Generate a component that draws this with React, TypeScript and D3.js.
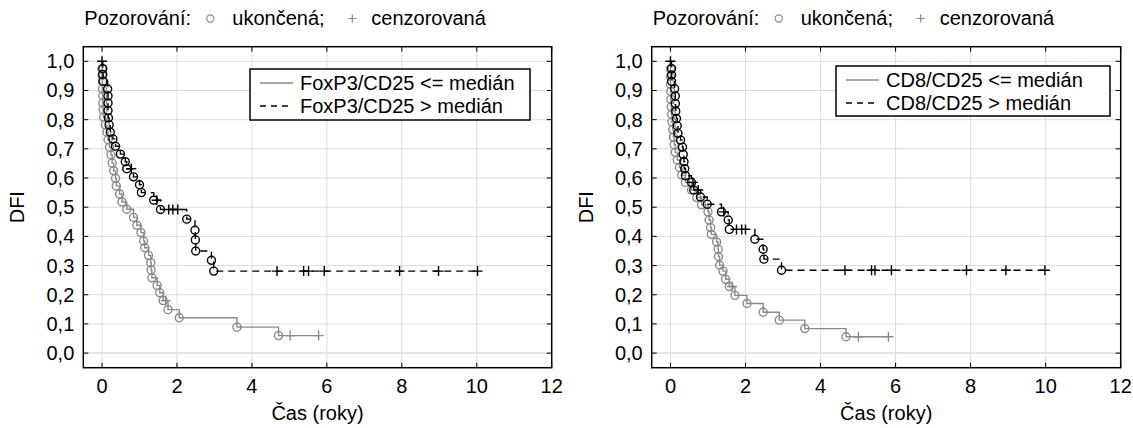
import React from 'react';
import * as d3 from 'd3';

// ---------- data ----------
const xTicks = [0, 2, 4, 6, 8, 10, 12];
const yTicks = [0, 0.1, 0.2, 0.3, 0.4, 0.5, 0.6, 0.7, 0.8, 0.9, 1.0];
const xLabel = 'Čas (roky)';
const yLabel = 'DFI';
const headerTitle = 'Pozorování:';
const headerEvent = 'ukončená;';
const headerCensor = 'cenzorovaná';

// [time, survival, status] status 1 = event (ukončená), 0 = censored (cenzorovaná)
type Obs = [number, number, number];

const foxLow: Obs[] = [
  [0.0, 0.974, 1], [0.0, 0.952, 1], [0.01, 0.93, 1], [0.01, 0.905, 1], [0.02, 0.882, 1],
  [0.02, 0.857, 1], [0.03, 0.834, 1], [0.04, 0.808, 1], [0.09, 0.782, 1], [0.13, 0.757, 1],
  [0.16, 0.731, 1], [0.2, 0.705, 1], [0.24, 0.679, 1], [0.27, 0.651, 1], [0.31, 0.625, 1],
  [0.36, 0.599, 1], [0.38, 0.573, 1], [0.47, 0.545, 1], [0.53, 0.518, 1], [0.66, 0.493, 1],
  [0.84, 0.465, 1], [0.93, 0.438, 1], [1.04, 0.413, 1], [1.11, 0.384, 1], [1.14, 0.361, 1],
  [1.24, 0.335, 1], [1.3, 0.31, 1], [1.31, 0.285, 1], [1.33, 0.258, 1], [1.47, 0.232, 1],
  [1.54, 0.207, 1], [1.63, 0.18, 1], [1.7, 0.18, 0], [1.76, 0.149, 1], [2.06, 0.121, 1],
  [3.6, 0.089, 1], [4.71, 0.06, 1], [5.02, 0.06, 0], [5.78, 0.06, 0],
];

const foxHigh: Obs[] = [
  [0.0, 1.0, 0], [0.02, 0.975, 1], [0.02, 0.955, 1], [0.03, 0.932, 1], [0.15, 0.905, 1],
  [0.16, 0.881, 1], [0.16, 0.857, 1], [0.16, 0.831, 1], [0.17, 0.806, 1], [0.19, 0.782, 1],
  [0.22, 0.757, 1], [0.29, 0.734, 1], [0.36, 0.709, 1], [0.49, 0.682, 1], [0.62, 0.656, 1],
  [0.66, 0.632, 1], [0.78, 0.632, 0], [0.84, 0.604, 1], [1.0, 0.577, 1], [1.05, 0.55, 1],
  [1.38, 0.524, 1], [1.46, 0.524, 0], [1.56, 0.492, 1], [1.78, 0.492, 0], [1.89, 0.492, 0],
  [2.02, 0.492, 0], [2.26, 0.459, 1], [2.48, 0.421, 1], [2.49, 0.388, 1], [2.5, 0.35, 1],
  [2.92, 0.318, 1], [2.98, 0.281, 1], [4.67, 0.281, 0], [5.38, 0.281, 0], [5.51, 0.281, 0],
  [5.93, 0.281, 0], [7.94, 0.281, 0], [8.98, 0.281, 0], [10.02, 0.281, 0],
];

const cd8Low: Obs[] = [
  [0.0, 0.974, 1], [0.0, 0.948, 1], [0.0, 0.922, 1], [0.01, 0.896, 1], [0.01, 0.87, 1],
  [0.02, 0.844, 1], [0.03, 0.818, 1], [0.04, 0.792, 1], [0.06, 0.766, 1], [0.08, 0.74, 1],
  [0.1, 0.714, 1], [0.13, 0.688, 1], [0.18, 0.662, 1], [0.24, 0.636, 1], [0.3, 0.61, 1],
  [0.4, 0.585, 1], [0.56, 0.559, 1], [0.7, 0.533, 1], [0.83, 0.508, 1], [1.0, 0.484, 1],
  [1.03, 0.456, 1], [1.07, 0.43, 1], [1.09, 0.407, 1], [1.23, 0.381, 1], [1.27, 0.356, 1],
  [1.28, 0.331, 1], [1.31, 0.301, 1], [1.4, 0.281, 1], [1.47, 0.253, 1], [1.57, 0.228, 1],
  [1.64, 0.228, 0], [1.72, 0.198, 1], [2.04, 0.17, 1], [2.47, 0.14, 1], [2.9, 0.113, 1],
  [3.58, 0.084, 1], [4.68, 0.056, 1], [5.01, 0.056, 0], [5.81, 0.056, 0],
];

const cd8High: Obs[] = [
  [0.0, 1.0, 0], [0.03, 0.975, 1], [0.03, 0.953, 1], [0.03, 0.931, 1], [0.11, 0.906, 1],
  [0.13, 0.881, 1], [0.13, 0.855, 1], [0.14, 0.829, 1], [0.16, 0.804, 1], [0.18, 0.779, 1],
  [0.2, 0.753, 1], [0.27, 0.73, 1], [0.32, 0.706, 1], [0.34, 0.681, 1], [0.36, 0.656, 1],
  [0.38, 0.632, 1], [0.4, 0.608, 1], [0.56, 0.585, 1], [0.6, 0.585, 0], [0.62, 0.559, 1],
  [0.74, 0.559, 0], [0.8, 0.535, 1], [0.98, 0.51, 1], [1.36, 0.484, 1], [1.42, 0.484, 0],
  [1.54, 0.456, 1], [1.57, 0.424, 1], [1.76, 0.424, 0], [1.9, 0.424, 0], [2.0, 0.424, 0],
  [2.25, 0.39, 1], [2.47, 0.356, 1], [2.49, 0.322, 1], [2.96, 0.284, 1], [4.65, 0.284, 0],
  [5.36, 0.284, 0], [5.45, 0.284, 0], [5.89, 0.284, 0], [7.89, 0.284, 0], [8.94, 0.284, 0],
  [9.98, 0.284, 0],
];

const foxNames = ['FoxP3/CD25 <= medián', 'FoxP3/CD25 > medián'];
const cd8Names = ['CD8/CD25 <= medián', 'CD8/CD25 > medián'];

// ---------- layout ----------
const W = 1133;
const H = 428;
const FONT = '"Liberation Sans", Arial, sans-serif';
const FS = 20;
const GRAY = '#8a8a8a';
const BLACK = '#000';

const panels = [
  { fx0: 83.3, fx1: 551.7, low: foxLow, high: foxHigh, names: foxNames, lg: { x: 250, y: 69, w: 280, h: 51 } },
  { fx0: 651.7, fx1: 1120.7, low: cd8Low, high: cd8High, names: cd8Names, lg: { x: 836, y: 66, w: 274, h: 50 } },
];
const fy0 = 46.7;
const fy1 = 367.7;

function stepPoints(data: Obs[]): [number, number][] {
  const pts: [number, number][] = [[0, 1]];
  let s = 1;
  for (const [t, sv, st] of data) {
    pts.push([t, s]);
    if (st === 1) {
      pts.push([t, sv]);
      s = sv;
    }
  }
  return pts;
}

const fmt = (v: number) => v.toFixed(1).replace('.', ',');

function Panel({ p }: { p: (typeof panels)[number] }) {
  const x = d3.scaleLinear().domain([-0.5, 12]).range([p.fx0, p.fx1]);
  const y = d3.scaleLinear().domain([-0.05, 1.05]).range([fy1, fy0]);
  const line = d3.line<[number, number]>().x((d) => x(d[0])).y((d) => y(d[1]));
  const tk = 5;
  const series = [
    { data: p.low, color: GRAY, dash: undefined as string | undefined },
    { data: p.high, color: BLACK, dash: '7,5' },
  ];
  const cx = (p.fx0 + p.fx1) / 2;
  const cy = (fy0 + fy1) / 2;
  return (
    <g>
      {/* header legend */}
      <g fontFamily={FONT} fontSize={FS} fill="#000">
        <text x={p.fx0 + 1} y={25}>{headerTitle}</text>
        <circle cx={p.fx0 + 127} cy={18.5} r={3.6} fill="none" stroke={GRAY} strokeWidth={1.2} />
        <text x={p.fx0 + 149} y={25}>{headerEvent}</text>
        <path d={`M${p.fx0 + 265},18.5h8M${p.fx0 + 269},14.5v8`} stroke={GRAY} strokeWidth={1.2} />
        <text x={p.fx0 + 288} y={25}>{headerCensor}</text>
      </g>
      {/* grid */}
      <g stroke="#dcdcdc" strokeWidth={1}>
        {xTicks.map((t) => (
          <line key={'gx' + t} x1={x(t)} x2={x(t)} y1={fy0} y2={fy1} />
        ))}
        {yTicks.map((t) => (
          <line key={'gy' + t} x1={p.fx0} x2={p.fx1} y1={y(t)} y2={y(t)} strokeWidth={t === 0 ? 2 : 1} stroke={t === 0 ? '#e4e4e4' : '#dcdcdc'} />
        ))}
      </g>
      {/* curves */}
      {series.map((s, i) => (
        <g key={i}>
          <path d={line(stepPoints(s.data)) || ''} fill="none" stroke={s.color} strokeWidth={1.4} strokeDasharray={s.dash} />
          {s.data.filter((d) => d[2] === 1).map((d, j) => (
            <circle key={'e' + j} cx={x(d[0])} cy={y(d[1])} r={4} fill="none" stroke={s.color} strokeWidth={1.4} />
          ))}
          {s.data.filter((d) => d[2] === 0).map((d, j) => (
            <path key={'c' + j} d={`M${x(d[0]) - 5},${y(d[1])}h10M${x(d[0])},${y(d[1]) - 5}v10`} stroke={s.color} strokeWidth={1.4} />
          ))}
        </g>
      ))}
      {/* frame and inner ticks */}
      <rect x={p.fx0} y={fy0} width={p.fx1 - p.fx0} height={fy1 - fy0} fill="none" stroke="#000" strokeWidth={1.5} />
      <g stroke="#000" strokeWidth={1}>
        {xTicks.map((t) => (
          <g key={'tx' + t}>
            <line x1={x(t)} x2={x(t)} y1={fy1} y2={fy1 - tk} />
            <line x1={x(t)} x2={x(t)} y1={fy0} y2={fy0 + tk} />
          </g>
        ))}
        {yTicks.map((t) => (
          <g key={'ty' + t}>
            <line x1={p.fx0} x2={p.fx0 + tk} y1={y(t)} y2={y(t)} />
            <line x1={p.fx1} x2={p.fx1 - tk} y1={y(t)} y2={y(t)} />
          </g>
        ))}
      </g>
      {/* tick labels */}
      <g fontFamily={FONT} fontSize={FS} fill="#000">
        {xTicks.map((t) => (
          <text key={'lx' + t} x={x(t)} y={fy1 + 25} textAnchor="middle">{t}</text>
        ))}
        {yTicks.map((t) => (
          <text key={'ly' + t} x={p.fx0 - 9} y={y(t) + 7} textAnchor="end">{fmt(t)}</text>
        ))}
        <text x={cx} y={420} textAnchor="middle">{xLabel}</text>
        <text transform={`translate(${p.fx0 - 59},${cy}) rotate(-90)`} textAnchor="middle">{yLabel}</text>
      </g>
      {/* legend box */}
      <g>
        <rect x={p.lg.x} y={p.lg.y} width={p.lg.w} height={p.lg.h} fill="#fff" stroke="#000" strokeWidth={1.5} />
        <line x1={p.lg.x + 10} x2={p.lg.x + 43} y1={p.lg.y + 14} y2={p.lg.y + 14} stroke={GRAY} strokeWidth={1.4} />
        <line x1={p.lg.x + 10} x2={p.lg.x + 43} y1={p.lg.y + 37} y2={p.lg.y + 37} stroke={BLACK} strokeWidth={1.4} strokeDasharray="6,5" />
        <g fontFamily={FONT} fontSize={FS} fill="#000">
          <text x={p.lg.x + 50} y={p.lg.y + 21}>{p.names[0]}</text>
          <text x={p.lg.x + 50} y={p.lg.y + 44}>{p.names[1]}</text>
        </g>
      </g>
    </g>
  );
}

export default function App() {
  return (
    <svg width={W} height={H} style={{ display: 'block', position: 'absolute', left: 0, top: 0 }}>
      <rect width={W} height={H} fill="#fff" />
      {panels.map((p, i) => (
        <Panel key={i} p={p} />
      ))}
    </svg>
  );
}
